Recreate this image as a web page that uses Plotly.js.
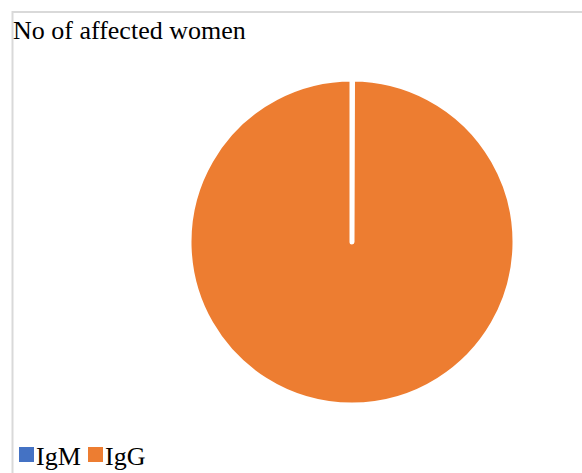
<!DOCTYPE html>
<html><head><meta charset="utf-8">
<script src="https://cdn.plot.ly/plotly-3.0.1.min.js"></script>
<style>html,body{margin:0;padding:0;background:#fff}#chart{width:582px;height:473px}</style>
</head><body><div id="chart"></div>
<script>
const categories = ["IgM", "IgG"];
const values = [0.05, 99.95];
const colors = ["#4472C4", "#ED7D31"];
const chartTitle = "No of affected women";

const W = 582, H = 473;
const cx = 352, cy = 242, r = 163;
const serif = "Liberation Serif";
const trace = {
  type: "pie",
  labels: categories,
  values: values,
  sort: false,
  direction: "clockwise",
  rotation: 0,
  textinfo: "none",
  hoverinfo: "label+value",
  showlegend: false,
  marker: {colors: colors, line: {color: "#ffffff", width: 5}},
  domain: {x: [(cx - r) / W, (cx + r) / W], y: [(H - cy - r) / H, (H - cy + r) / H]}
};

// custom legend built from categories/colors
const legendX = [19, 88];
const annotations = [{text: chartTitle, xref: "paper", yref: "paper", x: 11 / W, y: 1 - 14 / H,
  xanchor: "left", yanchor: "top", showarrow: false,
  font: {size: 26, family: serif, color: "#000"}}];
const shapes = [{type: "rect", xref: "paper", yref: "paper",
  x0: 12.5 / W, x1: 1.02, y0: -0.02, y1: 1 - 12 / H,
  line: {color: "#d9d9d9", width: 2}}];
categories.forEach((c, i) => {
  const x0 = legendX[i];
  shapes.push({type: "rect", xref: "paper", yref: "paper",
    x0: x0 / W, x1: (x0 + 15) / W, y0: (H - 462) / H, y1: (H - 447) / H,
    fillcolor: colors[i], line: {width: 0}});
  annotations.push({text: c, xref: "paper", yref: "paper", x: (x0 + 16) / W, y: (H - 472) / H,
    xanchor: "left", yanchor: "bottom", showarrow: false, borderpad: 0,
    font: {size: 26, family: serif, color: "#000"}});
});

const layout = {
  width: W, height: H,
  margin: {l: 0, r: 0, t: 0, b: 0},
  paper_bgcolor: "#ffffff",
  font: {family: serif, color: "#000"},
  showlegend: false,
  annotations: annotations,
  shapes: shapes
};
Plotly.newPlot("chart", [trace], layout, {displayModeBar: false, staticPlot: true});
</script></body></html>
